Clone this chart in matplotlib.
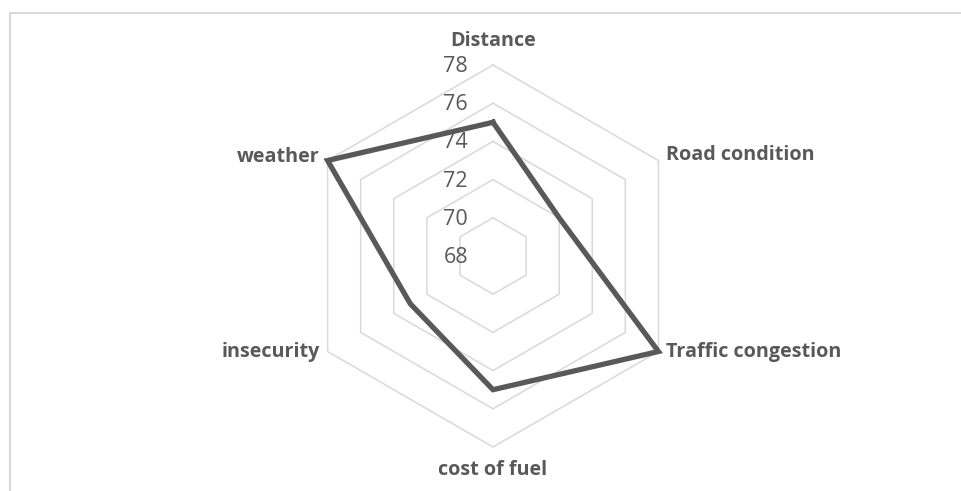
import numpy as np
import matplotlib
matplotlib.use("Agg")
import matplotlib.pyplot as plt
from matplotlib.lines import Line2D

categories = ["Distance", "Road condition", "Traffic congestion", "cost of fuel", "insecurity", "weather"]
values = [75, 72, 78, 75, 73, 78]
ring_values = [68, 70, 72, 74, 76, 78]
tick_labels = ["68", "70", "72", "74", "76", "78"]

plt.rcParams['font.family'] = ['Open Sans', 'DejaVu Sans']

fig = plt.figure(figsize=(9.61, 4.91), dpi=100)
W, H = 961, 491
cx, cy, R = 493, 256, 191
ax = fig.add_axes([(cx - R) / W, (H - cy - R) / H, 2 * R / W, 2 * R / H], projection='polar')
ax.set_theta_offset(np.pi / 2)
ax.set_theta_direction(-1)
ax.set_ylim(ring_values[0], ring_values[-1])
ax.grid(False)
ax.spines['polar'].set_visible(False)
ax.set_xticks([])
ax.set_yticks([])
ax.patch.set_alpha(0)

n = len(categories)
angles = np.linspace(0, 2 * np.pi, n, endpoint=False)
closed = np.concatenate([angles, angles[:1]])

grid_color = '#d9d9d9'
for rv in ring_values[1:]:
    ax.plot(closed, [rv] * (n + 1), color=grid_color, lw=1.1, zorder=1, clip_on=False)

ax.plot(closed, values + values[:1], color='#595959', lw=3.8, solid_joinstyle='miter', zorder=3, clip_on=False)

text_color = '#595959'
for rv, lab in zip(ring_values, tick_labels):
    ax.annotate(lab, xy=(0, rv), xytext=(-25, -1.5), textcoords='offset pixels',
                ha='right', va='center', fontsize=15.5, color=text_color, zorder=4,
                annotation_clip=False)

offsets = [(0, 24, 'center', 'center'),
           (8, 5, 'left', 'center'),
           (8, 0, 'left', 'center'),
           (0, -23, 'center', 'center'),
           (-8, 0, 'right', 'center'),
           (-8, 4, 'right', 'center')]
for ang, cat, (dx, dy, ha, va) in zip(angles, categories, offsets):
    ax.annotate(cat, xy=(ang, ring_values[-1]), xytext=(dx, dy), textcoords='offset pixels',
                ha=ha, va=va, fontsize=14.2, fontweight='bold', color=text_color,
                annotation_clip=False)

# chart frame (top and left edges visible)
fig.add_artist(Line2D([9.5 / W, 9.5 / W], [0, 1 - 12.5 / H], transform=fig.transFigure,
                      color=grid_color, lw=1.5))
fig.add_artist(Line2D([9.5 / W, 960.5 / W], [1 - 12.5 / H, 1 - 12.5 / H], transform=fig.transFigure,
                      color=grid_color, lw=1.5))

fig.savefig('out.png', dpi=100)
